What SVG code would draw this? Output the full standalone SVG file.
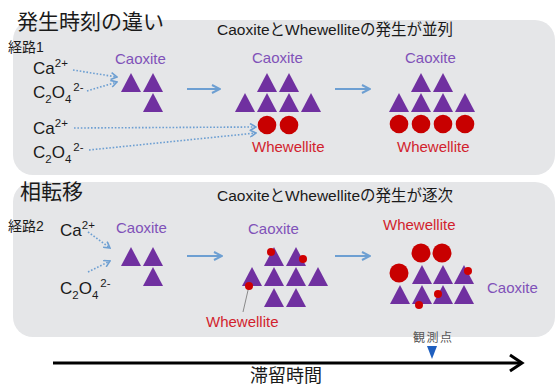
<svg xmlns="http://www.w3.org/2000/svg" xmlns:xlink="http://www.w3.org/1999/xlink" width="557" height="387" viewBox="0 0 557 387">
<style>
.jp{font-family:"Liberation Sans","Noto Sans CJK JP",sans-serif;fill:#1a1a1a}
.cao{font-family:"Liberation Sans",sans-serif;font-size:15px;fill:#8052b8}
.whe{font-family:"Liberation Sans",sans-serif;font-size:15px;fill:#d21f2e}
.ion{font-family:"Liberation Sans",sans-serif;font-size:17px;fill:#1a1a1a}
.panel{fill:#e5e6e8}
.tri{fill:#7030a0}
.big{fill:#c80000}
.dot{fill:#d00000}
.dash{fill:none;stroke:#6d9fd2;stroke-width:1.6;stroke-dasharray:1.6 1.8}
.solid{fill:none;stroke:#6d9fd2;stroke-width:2}
</style>
<defs>
<polygon id="tri" points="0,0 10,19 -10,19" class="tri"/>
<marker id="chev" viewBox="0 0 8 8" refX="7" refY="4" markerWidth="8" markerHeight="8" orient="auto" markerUnits="userSpaceOnUse">
<path d="M1,0.5 L7,4 L1,7.5" fill="none" stroke="#6d9fd2" stroke-width="1.6"/>
</marker>
<marker id="head" viewBox="0 0 10 10" refX="9" refY="5" markerWidth="10" markerHeight="10" orient="auto" markerUnits="userSpaceOnUse">
<path d="M1,1 L9,5 L1,9" fill="none" stroke="#6d9fd2" stroke-width="2"/>
</marker>
</defs>
<rect width="557" height="387" fill="#ffffff"/>

<g id="panel1">
<rect class="panel" x="13" y="20" width="542" height="155" rx="20"/>
<text class="jp" x="17" y="29" font-size="21">発生時刻の違い</text>
<text class="jp" x="8" y="52" font-size="14">経路1</text>
<text class="jp" x="217" y="35" font-size="15.5">CaoxiteとWhewelliteの発生が並列</text>
</g>

<g id="panel2">
<rect class="panel" x="13" y="182" width="542" height="155" rx="20"/>
<text class="jp" x="20" y="199" font-size="21">相転移</text>
<text class="jp" x="8" y="231" font-size="14">経路2</text>
<text class="jp" x="217" y="201" font-size="15.5">CaoxiteとWhewelliteの発生が逐次</text>
</g>

<g id="ions1">
<text class="ion" x="33" y="74">Ca<tspan font-size="11.5" dy="-7">2+</tspan></text>
<text class="ion" x="33" y="98">C<tspan font-size="11.5" dy="5">2</tspan><tspan dy="-5">O</tspan><tspan font-size="11.5" dy="5">4</tspan><tspan font-size="11.5" dx="2" dy="-12">2-</tspan></text>
<text class="ion" x="33" y="134">Ca<tspan font-size="11.5" dy="-7">2+</tspan></text>
<text class="ion" x="33" y="158">C<tspan font-size="11.5" dy="5">2</tspan><tspan dy="-5">O</tspan><tspan font-size="11.5" dy="5">4</tspan><tspan font-size="11.5" dx="2" dy="-12">2-</tspan></text>
</g>

<g id="ions2">
<text class="ion" x="60" y="236">Ca<tspan font-size="11.5" dy="-7">2+</tspan></text>
<text class="ion" x="60" y="294">C<tspan font-size="11.5" dy="5">2</tspan><tspan dy="-5">O</tspan><tspan font-size="11.5" dy="5">4</tspan><tspan font-size="11.5" dx="2" dy="-12">2-</tspan></text>
</g>

<g id="p1-stage1">
<text class="cao" x="115" y="64">Caoxite</text>
<use xlink:href="#tri" x="131" y="73"/>
<use xlink:href="#tri" x="153" y="73"/>
<use xlink:href="#tri" x="153" y="93"/>
</g>

<g id="p1-stage2">
<text class="cao" x="252" y="63">Caoxite</text>
<use xlink:href="#tri" x="267" y="73"/>
<use xlink:href="#tri" x="289" y="73"/>
<use xlink:href="#tri" x="245" y="93"/>
<use xlink:href="#tri" x="267" y="93"/>
<use xlink:href="#tri" x="289" y="93"/>
<use xlink:href="#tri" x="311" y="93"/>
<circle class="big" cx="267" cy="125" r="9.3"/>
<circle class="big" cx="289" cy="125" r="9.3"/>
<text class="whe" x="252" y="152">Whewellite</text>
</g>

<g id="p1-stage3">
<text class="cao" x="405" y="63">Caoxite</text>
<use xlink:href="#tri" x="421" y="73"/>
<use xlink:href="#tri" x="443" y="73"/>
<use xlink:href="#tri" x="399" y="93"/>
<use xlink:href="#tri" x="421" y="93"/>
<use xlink:href="#tri" x="443" y="93"/>
<use xlink:href="#tri" x="465" y="93"/>
<circle class="big" cx="399" cy="124" r="9.3"/>
<circle class="big" cx="421" cy="124" r="9.3"/>
<circle class="big" cx="443" cy="124" r="9.3"/>
<circle class="big" cx="465" cy="124" r="9.3"/>
<text class="whe" x="397" y="152">Whewellite</text>
</g>

<g id="p2-stage1">
<text class="cao" x="116" y="233">Caoxite</text>
<use xlink:href="#tri" x="131" y="247"/>
<use xlink:href="#tri" x="153" y="247"/>
<use xlink:href="#tri" x="153" y="267"/>
</g>

<g id="p2-stage2">
<text class="cao" x="248" y="234">Caoxite</text>
<use xlink:href="#tri" x="274" y="247"/>
<use xlink:href="#tri" x="296" y="247"/>
<use xlink:href="#tri" x="252" y="267"/>
<use xlink:href="#tri" x="274" y="267"/>
<use xlink:href="#tri" x="296" y="267"/>
<use xlink:href="#tri" x="318" y="267"/>
<use xlink:href="#tri" x="274" y="288"/>
<use xlink:href="#tri" x="296" y="288"/>
<circle class="dot" cx="271" cy="252" r="4"/>
<circle class="dot" cx="303" cy="259" r="4"/>
<line x1="249" y1="286" x2="243" y2="312" stroke="#8a8a8a" stroke-width="1"/>
<circle class="dot" cx="249" cy="286" r="4"/>
<text class="whe" x="206" y="327">Whewellite</text>
</g>

<g id="p2-stage3">
<text class="whe" x="383" y="230">Whewellite</text>
<circle class="big" cx="421" cy="253" r="9.5"/>
<circle class="big" cx="442" cy="253" r="9.5"/>
<circle class="big" cx="399" cy="273" r="9.5"/>
<use xlink:href="#tri" x="422" y="265"/>
<use xlink:href="#tri" x="443" y="265"/>
<use xlink:href="#tri" x="464" y="265"/>
<use xlink:href="#tri" x="400" y="285"/>
<use xlink:href="#tri" x="422" y="285"/>
<use xlink:href="#tri" x="443" y="285"/>
<use xlink:href="#tri" x="464" y="285"/>
<circle class="dot" cx="468" cy="271" r="4"/>
<circle class="dot" cx="438" cy="294" r="4"/>
<circle class="dot" cx="419" cy="305" r="4"/>
<text class="cao" x="487" y="293">Caoxite</text>
</g>

<g id="connectors">
<path class="dash" d="M73,70 L117,77" marker-end="url(#chev)"/>
<path class="dash" d="M87,91 L117,82" marker-end="url(#chev)"/>
<path class="dash" d="M74,128 L256,127" marker-end="url(#chev)"/>
<path class="dash" d="M89,150 L256,133" marker-end="url(#chev)"/>
<path class="dash" d="M88,232 L110,248" marker-end="url(#chev)"/>
<path class="dash" d="M88,272 L110,261" marker-end="url(#chev)"/>
<path class="solid" d="M187,89 L220,89" marker-end="url(#head)"/>
<path class="solid" d="M335,89 L370,89" marker-end="url(#head)"/>
<path class="solid" d="M187,256 L222,256" marker-end="url(#head)"/>
<path class="solid" d="M335,256 L370,256" marker-end="url(#head)"/>
</g>

<g id="timeline">
<line x1="53" y1="363" x2="520" y2="363" stroke="#000" stroke-width="3"/>
<path d="M510,355 L522,363 L510,371" fill="none" stroke="#000" stroke-width="3"/>
<polygon points="427,346 437,346 432,359" fill="#1f5fbf"/>
<text class="jp" x="413" y="342" font-size="12" letter-spacing="1.5" style="fill:#555">観測点</text>
<text class="jp" x="250" y="382" font-size="18">滞留時間</text>
</g>
</svg>
